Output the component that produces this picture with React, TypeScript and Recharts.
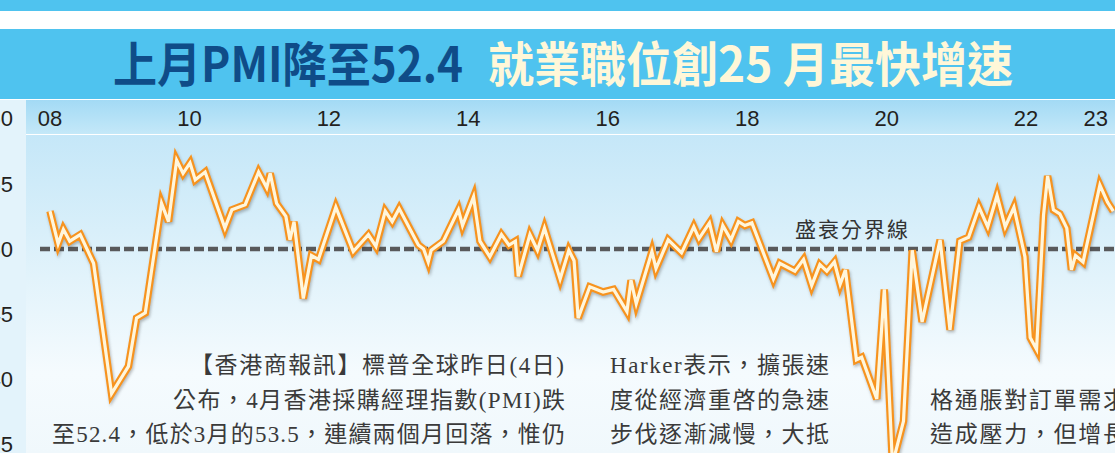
import React from 'react'
import { LineChart, Line, XAxis, YAxis, ReferenceLine } from 'recharts'

// month index counted from Jan 2008
const monthPos = [
  0, 1.4, 2.3, 3.4, 5.2, 7.5, 10.6, 13.5, 14.9, 16.4,
  19.2, 20.4, 21.8, 22.9, 24.1, 25, 26.7, 30.1, 31.3, 33.6,
  35.9, 37.3, 37.9, 39, 40.6, 41.3, 42, 43.6, 45, 46.2,
  49.2, 52.2, 54.8, 56.1, 57.7, 58.9, 60.1, 63.4, 64.3, 65.1,
  65.6, 67.7, 70.3, 71, 72.9, 74, 75.7, 77.7, 79, 80.1,
  80.6, 82.6, 83.9, 85.1, 87.8, 89.3, 90.2, 90.9, 92.9, 95.2,
  97, 99.3, 100, 100.9, 103.6, 104.3, 106.4, 108.7, 110.8, 111.7,
  113.5, 114.7, 115.8, 117.2, 118.5, 119.6, 120.8, 124.5, 125.6, 128.2,
  129.7, 131.1, 132.5, 133.7, 135, 136, 136.9, 138.8, 139.7, 142.3,
  143.6, 145, 146.9, 148.4, 150.1, 153.2, 154.9, 156.6, 158.1, 159.9,
  161.4, 163, 164.4, 165.9, 167.8, 168.7, 169.8, 171, 171.7, 172.7,
  173.8, 175, 175.8, 176.5, 177.8, 180.7, 182, 183,
]

const pmi = [
  52.9, 50.4, 51.5, 50.6, 51.1, 48.9, 38.9, 41.0, 44.7, 45.1,
  53.5, 52.1, 56.8, 55.8, 56.6, 55.3, 55.9, 51.6, 53.0, 53.4,
  55.9, 54.7, 55.8, 53.5, 52.5, 50.7, 52.1, 46.2, 49.5, 49.2,
  53.2, 49.8, 51.1, 50.2, 52.9, 52.1, 53.1, 50.3, 50.0, 49.0,
  49.9, 50.6, 53.0, 51.8, 54.0, 50.6, 49.4, 51.1, 50.3, 50.6,
  47.9, 51.1, 49.9, 51.6, 47.7, 49.9, 49.1, 44.7, 47.1, 46.7,
  46.9, 45.2, 47.6, 45.8, 49.8, 48.5, 50.7, 49.7, 51.7, 50.8,
  52.0, 49.8, 51.8, 50.7, 52.1, 51.8, 52.0, 47.7, 48.9, 48.3,
  49.2, 47.2, 48.8, 48.3, 49.0, 47.3, 48.4, 41.5, 41.7, 38.5,
  46.9, 33.5, 36.8, 49.9, 44.4, 50.7, 43.8, 50.6, 50.9, 53.2,
  51.7, 54.1, 51.7, 53.2, 49.4, 43.2, 42.3, 52.6, 55.6, 53.0,
  52.7, 51.6, 48.4, 49.5, 49.0, 54.9, 53.6, 52.9,
]

const tickMonths = [0, 24, 48, 72, 96, 120, 144, 168, 180]
const tickLabels = ['08', '10', '12', '14', '16', '18', '20', '22', '23']
const yTicks = [35, 40, 45, 50, 55, 60]
const threshold = 50

const data = monthPos.map((m, i) => ({ m, pmi: pmi[i] }))

const sans = "'Liberation Sans', Arial, sans-serif"
const cjkBold = "'Noto Sans CJK TC', 'Noto Sans CJK SC', sans-serif"
const body = "'Liberation Serif', 'Noto Sans CJK TC', serif"

function XTick({ x, payload }: any) {
  const i = tickMonths.indexOf(payload.value)
  return (
    <text x={x} y={126} textAnchor="middle" fontSize={22} fill="#231f20" fontFamily={sans}>
      {tickLabels[i]}
    </text>
  )
}

function ThresholdLabel({ viewBox }: any) {
  return (
    <text x={viewBox.x + 755} y={viewBox.y - 12} fontSize={21} fill="#333" fontFamily={cjkBold} textLength={113}>
      盛衰分界線
    </text>
  )
}

export default function App() {
  return (
    <div style={{ position: 'absolute', left: 0, top: 0, width: 1115, height: 453, overflow: 'hidden', background: '#fff' }}>
      <style>{`.pmi-outer { filter: drop-shadow(1px 2px 1.5px rgba(60,60,60,0.35)); }`}</style>

      {/* banner + panel backgrounds */}
      <div style={{ position: 'absolute', left: 0, top: 0, width: 1115, height: 11, background: '#4fc3ef' }} />
      <div style={{ position: 'absolute', left: 0, top: 29, width: 1115, height: 70, background: '#4fc3ef' }} />
      <div style={{ position: 'absolute', left: 0, top: 100, width: 26, height: 353, background: '#e3f3fb' }} />
      <div style={{ position: 'absolute', left: 26, top: 100, width: 1089, height: 34, background: 'linear-gradient(#a3daf5, #c4e8f8)' }} />
      <div style={{ position: 'absolute', left: 26, top: 135, width: 1089, height: 318, background: 'linear-gradient(#c5e7f8 0%, #e2f3fb 45%, #f5fbfe 75%, #f0f8fc 100%)' }} />

      <svg width={1115} height={453} style={{ position: 'absolute', left: 0, top: 0 }}>
        <text x={113} y={82} fontSize={48} fontWeight={700} fill="#0f4c88" fontFamily={cjkBold} textLength={350} lengthAdjust="spacingAndGlyphs">
          上月PMI降至52.4
        </text>
        <text x={488} y={82} fontSize={48} fontWeight={700} fill="#fff7d8" fontFamily={cjkBold} textLength={525} lengthAdjust="spacingAndGlyphs">
          就業職位創25 月最快增速
        </text>
      </svg>

      <LineChart
        width={1115}
        height={460}
        data={data}
        margin={{ top: 60, right: 0, bottom: 2.4, left: 0 }}
        style={{ position: 'absolute', left: 0, top: 0 }}
      >
        <XAxis
          dataKey="m"
          type="number"
          orientation="top"
          domain={[-1.72, 183.3]}
          ticks={tickMonths}
          height={32.5}
          axisLine={false}
          tickLine={false}
          tick={<XTick />}
          allowDataOverflow
        />
        <YAxis
          type="number"
          domain={[34, 62]}
          ticks={yTicks}
          width={40}
          axisLine={false}
          tickLine={false}
          tickSize={0}
          tickMargin={27}
          tick={{ fontSize: 22, fill: '#231f20', fontFamily: sans }}
          allowDataOverflow
        />
        <ReferenceLine y={threshold} stroke="#58595b" strokeWidth={4.5} strokeDasharray="10 4" label={<ThresholdLabel />} />
        <Line type="linear" dataKey="pmi" className="pmi-outer" stroke="#f7931e" strokeWidth={7.5} dot={false} isAnimationActive={false} />
        <Line type="linear" dataKey="pmi" stroke="#fff6dc" strokeWidth={3.2} dot={false} isAnimationActive={false} />
      </LineChart>

      <svg width={1115} height={453} style={{ position: 'absolute', left: 0, top: 0, pointerEvents: 'none' }}>
        <g fontSize={23} fill="#3a3a3a" fontFamily={body}>
          <text x={190} y={373} textLength={374}>【香港商報訊】標普全球昨日(4日)</text>
          <text x={173} y={408} textLength={392}>公布，4月香港採購經理指數(PMI)跌</text>
          <text x={52} y={442} textLength={513}>至52.4，低於3月的53.5，連續兩個月回落，惟仍</text>
          <text x={610} y={373} textLength={219}>Harker表示，擴張速</text>
          <text x={610} y={408} textLength={219}>度從經濟重啓的急速</text>
          <text x={610} y={442} textLength={219}>步伐逐漸減慢，大抵</text>
          <text x={930} y={408} textLength={196}>格通脹對訂單需求</text>
          <text x={930} y={442} textLength={196}>造成壓力，但增長</text>
        </g>
      </svg>
    </div>
  )
}
